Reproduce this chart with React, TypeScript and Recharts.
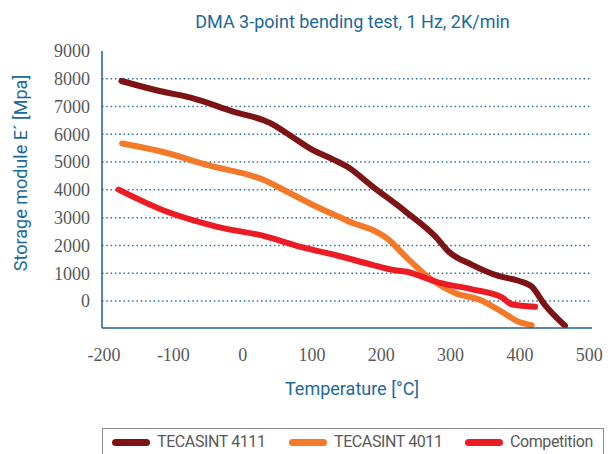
import React from 'react';
import { LineChart, Line, XAxis, YAxis, CartesianGrid, Customized } from 'recharts';

// ---- Data ----
const xTicks = [-200, -100, 0, 100, 200, 300, 400, 500];
const yTicks = [0, 1000, 2000, 3000, 4000, 5000, 6000, 7000, 8000, 9000];
const gridValues = [0, 1000, 2000, 3000, 4000, 5000, 6000, 7000, 8000];

const t4111Temp = [-175, -120, -75, -15, 40, 63, 100, 130, 150, 187, 235, 278, 297, 331, 369, 398, 417, 436, 465];
const t4111Mod = [7920, 7560, 7320, 6830, 6400, 6050, 5450, 5100, 4850, 4130, 3220, 2320, 1780, 1300, 900, 730, 520, -140, -890];

const t4011Temp = [-174, -119, -47, 29, 63, 106, 150, 211, 235, 273, 307, 341, 374, 398, 417];
const t4011Mod = [5670, 5390, 4870, 4370, 3950, 3400, 2900, 2200, 1600, 760, 280, 50, -390, -750, -870];

const compTemp = [-179, -110, -38, 34, 82, 139, 187, 216, 235, 283, 331, 374, 388, 422];
const compMod = [4010, 3220, 2680, 2320, 1960, 1620, 1300, 1120, 1060, 660, 420, 130, -120, -210];

const seriesNames = ['TECASINT 4111', 'TECASINT 4011', 'Competition'];
const seriesColors = ['#7d1315', '#f47a2a', '#ed1c24'];

const zip = (t: number[], m: number[]) => t.map((x, i) => ({ x, y: m[i] }));
const series = [
  { name: seriesNames[0], color: seriesColors[0], data: zip(t4111Temp, t4111Mod) },
  { name: seriesNames[1], color: seriesColors[1], data: zip(t4011Temp, t4011Mod) },
  { name: seriesNames[2], color: seriesColors[2], data: zip(compTemp, compMod) },
];

const legendLeft = [112, 289, 465];

const blue = '#1c6a9b';
const axisBlue = '#1f5f94';
const sans = 'Roboto, "Noto Sans", sans-serif';

const Texts = () => (
  <g>
    <text x={352.5} y={28} textAnchor="middle" fontFamily={sans} fontSize={18} fill={blue}>
      DMA 3-point bending test, 1 Hz, 2K/min
    </text>
    <text x={352} y={395} textAnchor="middle" fontFamily={sans} fontSize={18} fill={blue}>
      Temperature [°C]
    </text>
    <text transform="translate(27,173) rotate(-90)" textAnchor="middle" fontFamily={sans} fontSize={18} fill={blue}>
      Storage module E´ [Mpa]
    </text>
  </g>
);

export default function App() {
  return (
    <div style={{ position: 'absolute', left: 0, top: 0, width: 614, height: 454, background: '#fff', overflow: 'hidden' }}>
      <LineChart width={614} height={454} margin={{ top: 51, right: 22, bottom: 86, left: 42 }}>
        <CartesianGrid
          vertical={false}
          stroke="#2a6fa0"
          strokeWidth={1.5}
          strokeDasharray="1.5 2.8"
          horizontalValues={gridValues}
        />
        <XAxis
          type="number"
          dataKey="x"
          domain={[-203, 504]}
          ticks={xTicks}
          interval={0}
          allowDataOverflow
          height={40}
          tickLine={false}
          tickSize={0}
          tickMargin={20}
          axisLine={{ stroke: axisBlue, strokeWidth: 1.5 }}
          tick={{ fill: '#595959', fontSize: 18, fontFamily: '"Liberation Serif", serif' }}
        />
        <YAxis
          type="number"
          dataKey="y"
          domain={[-973, 9000]}
          ticks={yTicks}
          interval={0}
          allowDataOverflow
          width={60}
          tickLine={false}
          tickSize={0}
          tickMargin={12}
          axisLine={{ stroke: axisBlue, strokeWidth: 1.5 }}
          tick={{ fill: '#595959', fontSize: 18, fontFamily: '"Liberation Serif", serif' }}
        />
        {series.map((s) => (
          <Line
            key={s.name}
            name={s.name}
            data={s.data}
            dataKey="y"
            type="monotone"
            stroke={s.color}
            strokeWidth={6}
            strokeLinecap="round"
            strokeLinejoin="round"
            dot={false}
            activeDot={false}
            isAnimationActive={false}
          />
        ))}
        <Customized component={<Texts />} />
      </LineChart>
      <div
        style={{
          position: 'absolute',
          left: 102,
          top: 428,
          width: 502,
          height: 40,
          border: '1px solid #8c8c8c',
          boxSizing: 'border-box',
        }}
      >
        {series.map((s, i) => (
          <div
            key={s.name}
            style={{
              position: 'absolute',
              left: legendLeft[i] - 103,
              top: 3,
              height: 20,
              display: 'flex',
              alignItems: 'center',
              whiteSpace: 'nowrap',
            }}
          >
            <span style={{ display: 'inline-block', width: 38, height: 7, borderRadius: 3.5, background: s.color }} />
            <span
              style={{
                marginLeft: 7,
                fontFamily: sans,
                fontSize: 16,
                letterSpacing: -0.4,
                color: '#595959',
                lineHeight: '20px',
              }}
            >
              {s.name}
            </span>
          </div>
        ))}
      </div>
    </div>
  );
}
